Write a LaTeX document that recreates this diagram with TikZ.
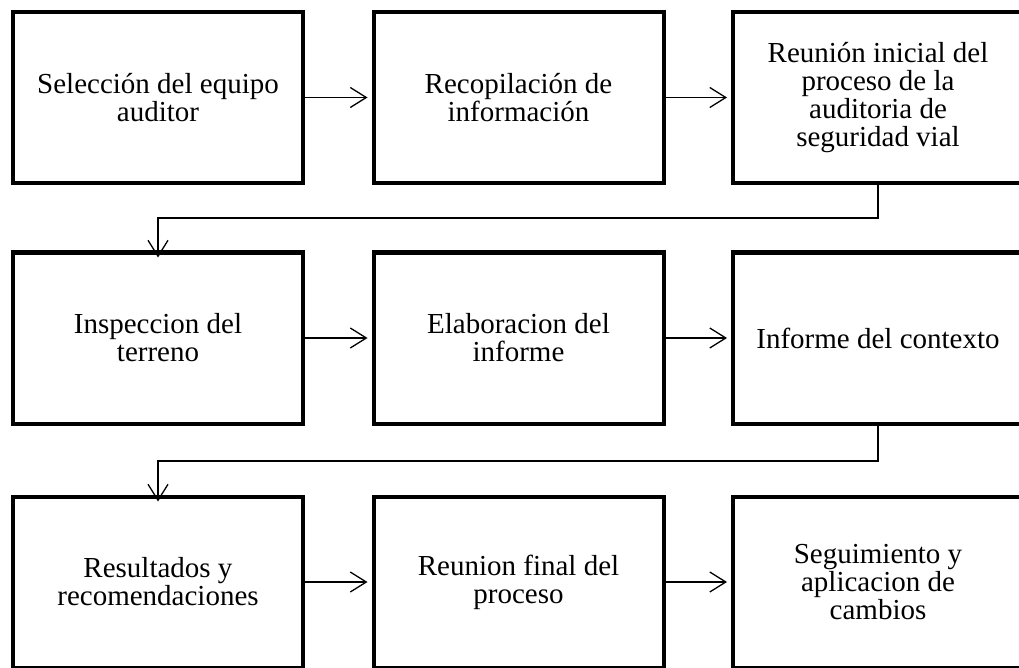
\documentclass[tikz,border=0pt]{standalone}
\usepackage{fontspec}
\setmainfont{Liberation Serif}
\usetikzlibrary{arrows.meta}
\begin{document}
\begin{tikzpicture}[x=1pt,y=-1pt,
  box/.style={draw, line width=4pt, minimum width=290pt, minimum height=171pt,
    align=center, inner sep=0pt, outer sep=0pt,
    font=\fontsize{29}{28}\selectfont},
  arr/.style={line width=1.3pt, -{Straight Barb[length=16pt,width=20pt,line width=1.3pt]}}]
\useasboundingbox (0,0) rectangle (1019,668);
\clip (0,0) rectangle (1019,668);
\node[box] (b1) at (158,97.5) {Selección del equipo\\auditor};
\node[box] (b2) at (518.5,97.5) {Recopilación de\\información};
\node[box] (b3) at (878,97.5) {Reunión inicial del\\proceso de la\\auditoria de\\seguridad vial};
\node[box] (b4) at (158,338) {Inspeccion del\\terreno};
\node[box] (b5) at (518.5,338) {Elaboracion del\\informe};
\node[box] (b6) at (878,338) {Informe del contexto};
\node[box] (b7) at (158,582) {Resultados y\\recomendaciones};
\node[box] (b8) at (518.5,582) {Reunion final del\\proceso};
\node[box] (b9) at (878,582) {Seguimiento y\\aplicacion de\\cambios};
\draw[arr] (b1.east) -- ([xshift=-6pt]b2.west);
\draw[arr] (b2.east) -- ([xshift=-6pt]b3.west);
\draw[arr] (b4.east) -- ([xshift=-6pt]b5.west);
\draw[arr] (b5.east) -- ([xshift=-6pt]b6.west);
\draw[arr] (b7.east) -- ([xshift=-6pt]b8.west);
\draw[arr] (b8.east) -- ([xshift=-6pt]b9.west);
\coordinate (c1) at (878,218);
\coordinate (c2) at (158,218);
\draw[arr] (b3.south) -- (c1) -- (c2) -- ([yshift=-5pt]b4.north);
\coordinate (c3) at (878,461);
\coordinate (c4) at (158,461);
\draw[arr] (b6.south) -- (c3) -- (c4) -- ([yshift=-5pt]b7.north);
\end{tikzpicture}
\end{document}
